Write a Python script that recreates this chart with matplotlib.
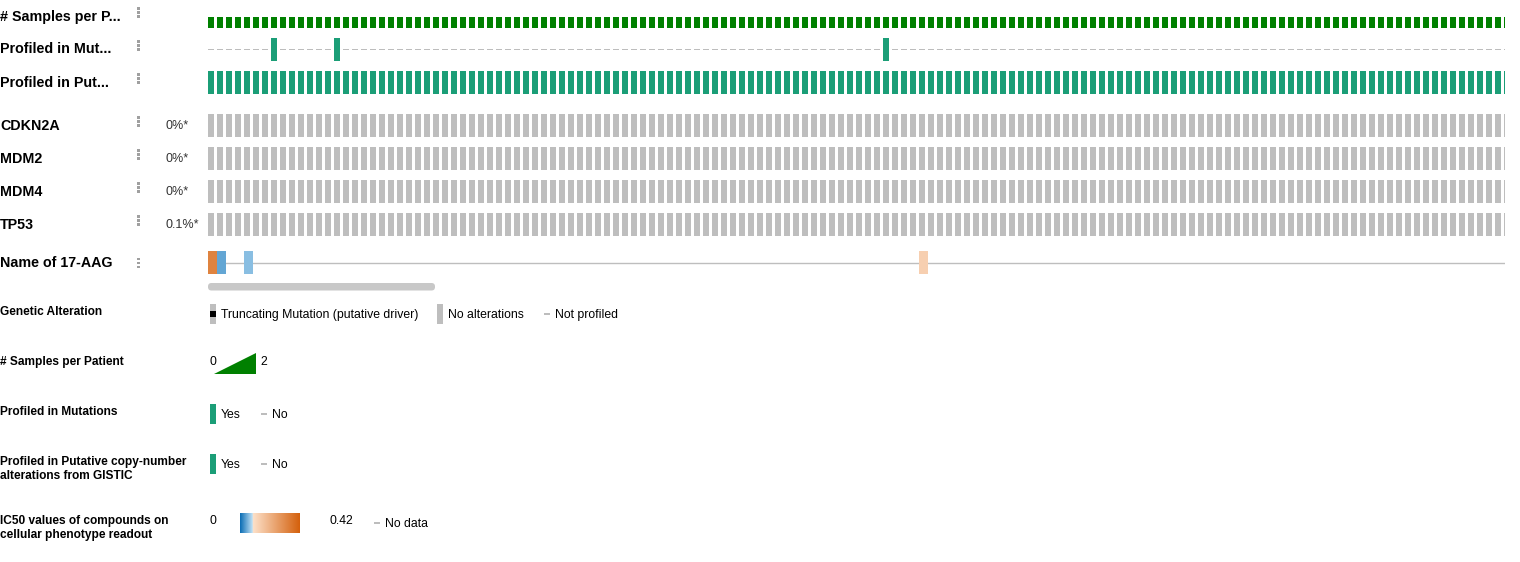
import matplotlib
matplotlib.use("Agg")
import matplotlib.pyplot as plt
from matplotlib.patches import Rectangle, Polygon, FancyBboxPatch
from matplotlib.colors import LinearSegmentedColormap, Normalize
import numpy as np

plt.rcParams['font.family'] = ['Liberation Sans', 'DejaVu Sans']

# ---------------- data ----------------
N_VISIBLE = 145                       # columns visible in the scroll window
samples_per_patient = [1] * N_VISIBLE  # every patient has 1 sample (scale 0..2)
SPP_MAX = 2
mut_profiled_cols = [7, 14, 75]        # columns profiled in mutations
cna_profiled = [True] * N_VISIBLE      # all profiled in CNA
genes = ["CDKN2A", "MDM2", "MDM4", "TP53"]
gene_pcts = ["0%*", "0%*", "0%*", "0.1%*"]
ic50_cols = [0, 1, 4, 79]
ic50_vals = [0.33, 0.043, 0.061, 0.136]
IC50_MIN, IC50_MAX = 0.0, 0.42

track_labels = ["# Samples per P...", "Profiled in Mut...", "Profiled in Put...",
                "CDKN2A", "MDM2", "MDM4", "TP53", "Name of 17-AAG"]

# ---------------- style ----------------
GREEN = "#008000"
TEAL = "#1b9e77"
GRAY = "#bebebe"
LINEGRAY = "#bdbdbd"
W, H = 1520, 562
COL_W = 9
BAR_W = 6
X0, X1 = 208, 1505
TRACK_H = 23
track_tops = [5, 38, 71, 114, 147, 180, 213, 251]
DY = 1.0   # vertical text correction (va=center includes descender)

ic50_cmap = LinearSegmentedColormap.from_list(
    "ic50", [(0.0, "#0a6db4"), (0.21, "#c2e2f6"), (0.215, "#fde1ca"), (1.0, "#d4600c")])
ic50_norm = Normalize(IC50_MIN, IC50_MAX)

fig = plt.figure(figsize=(W / 100, H / 100), dpi=100)
ax = fig.add_axes([0, 0, 1, 1])
ax.set_xlim(0, W)
ax.set_ylim(H, 0)
ax.axis("off")

# track area axes (units: columns)
tax = fig.add_axes([X0 / W, 0, (X1 - X0) / W, 1])
tax.set_xlim(0, (X1 - X0) / COL_W)
tax.set_ylim(H, 0)
tax.axis("off")
bw = BAR_W / COL_W
cols = np.arange(N_VISIBLE)

# track 0: samples per patient
top = track_tops[0]
tax.bar(cols, [-TRACK_H * v / SPP_MAX for v in samples_per_patient], width=bw,
        bottom=top + TRACK_H, align="edge", color=GREEN, linewidth=0)

# track 1: profiled in mutations
top = track_tops[1]
prof = set(mut_profiled_cols)
p_cols = [c for c in cols if c in prof]
n_cols = [c for c in cols if c not in prof]
tax.bar(p_cols, TRACK_H, width=bw, bottom=top, align="edge", color=TEAL, linewidth=0)
tax.bar(n_cols, 1.3, width=bw, bottom=top + TRACK_H / 2 - 0.65, align="edge",
        color=LINEGRAY, linewidth=0)

# track 2: profiled in CNA
top = track_tops[2]
c2 = [c for c in cols if cna_profiled[c]]
tax.bar(c2, TRACK_H, width=bw, bottom=top, align="edge", color=TEAL, linewidth=0)

# gene tracks
for gi in range(len(genes)):
    top = track_tops[3 + gi]
    tax.bar(cols, TRACK_H, width=bw, bottom=top, align="edge", color=GRAY, linewidth=0)

# heatmap track
top = track_tops[7]
tax.plot([0, N_VISIBLE], [top + 11.7, top + 11.7], color=GRAY, lw=1.0, zorder=1)
tax.bar(ic50_cols, TRACK_H, width=1.0, bottom=top, align="edge",
        color=[ic50_cmap(ic50_norm(v)) for v in ic50_vals], linewidth=0, zorder=2)

# ---------------- labels ----------------
label_y = [16, 48, 82, 125, 158, 191, 224, 262]
for lab, y in zip(track_labels, label_y):
    ax.text(0, y + DY, lab, fontsize=10.3, fontweight="bold", va="center", ha="left",
            color="#000")

# three dot icons
for i, top in enumerate(track_tops):
    c = top + TRACK_H / 2
    offs = [-8, -4, 0] if i < 7 else [-3.5, 0.5, 4.5]
    for o in offs:
        ax.add_patch(Rectangle((137.3, c + o - 1.2), 2.4, 2.4, color="#a0a0a0", lw=0))

for gi, p in enumerate(gene_pcts):
    ax.text(165, label_y[3 + gi] + DY, p, fontsize=9, va="center", ha="left", color="#333")

# scrollbar
ax.add_patch(FancyBboxPatch((211.5, 286.5), 220, 0.5, boxstyle="round,pad=3.5",
                            fc="#c8c8c8", ec="none"))

# ---------------- legends ----------------
LFS = 8.8
BFS = 8.6
ax.text(0, 311 + DY, "Genetic Alteration", fontsize=BFS, fontweight="bold", va="center")
ax.add_patch(Rectangle((210, 304), 6, 20, color=GRAY, lw=0))
ax.add_patch(Rectangle((210, 311), 6, 6, color="#000", lw=0))
ax.text(221, 314 + DY, "Truncating Mutation (putative driver)", fontsize=LFS, va="center")
ax.add_patch(Rectangle((437, 304), 6, 20, color=GRAY, lw=0))
ax.text(448, 314 + DY, "No alterations", fontsize=LFS, va="center")
ax.add_patch(Rectangle((544, 313.4), 6, 1.3, color=LINEGRAY, lw=0))
ax.text(555, 314 + DY, "Not profiled", fontsize=LFS, va="center")

ax.text(0, 361 + DY, "# Samples per Patient", fontsize=BFS, fontweight="bold", va="center")
ax.text(210, 361 + DY, "0", fontsize=LFS, va="center")
ax.add_patch(Polygon([(214, 374), (256, 353), (256, 374)], closed=True, color=GREEN, lw=0))
ax.text(260, 361 + DY, "2", fontsize=LFS, va="center")

for y_lab, y_item, lines in [(411, 414, ["Profiled in Mutations"]),
                             (461, 464, ["Profiled in Putative copy-number",
                                         "alterations from GISTIC"])]:
    for k, ln in enumerate(lines):
        ax.text(0, y_lab + 14 * k + DY, ln, fontsize=BFS, fontweight="bold", va="center")
    ax.add_patch(Rectangle((210, y_item - 10), 6, 20, color=TEAL, lw=0))
    ax.text(221, y_item + DY, "Yes", fontsize=LFS, va="center")
    ax.add_patch(Rectangle((261, y_item - 0.65), 6, 1.3, color=LINEGRAY, lw=0))
    ax.text(272, y_item + DY, "No", fontsize=LFS, va="center")

ax.text(0, 520 + DY, "IC50 values of compounds on", fontsize=BFS, fontweight="bold", va="center")
ax.text(0, 534 + DY, "cellular phenotype readout", fontsize=BFS, fontweight="bold", va="center")
ax.text(210, 520 + DY, "0", fontsize=LFS, va="center")
grad = np.linspace(0, 1, 256).reshape(1, -1)
ax.imshow(grad, cmap=ic50_cmap, extent=(240, 300, 533, 513), aspect="auto", zorder=2)
ax.set_xlim(0, W)
ax.set_ylim(H, 0)
ax.text(330, 520 + DY, "0.42", fontsize=LFS, va="center")
ax.add_patch(Rectangle((374, 522.4), 6, 1.3, color=LINEGRAY, lw=0))
ax.text(385, 523 + DY, "No data", fontsize=LFS, va="center")

fig.savefig("out.png", dpi=100, facecolor="white")
